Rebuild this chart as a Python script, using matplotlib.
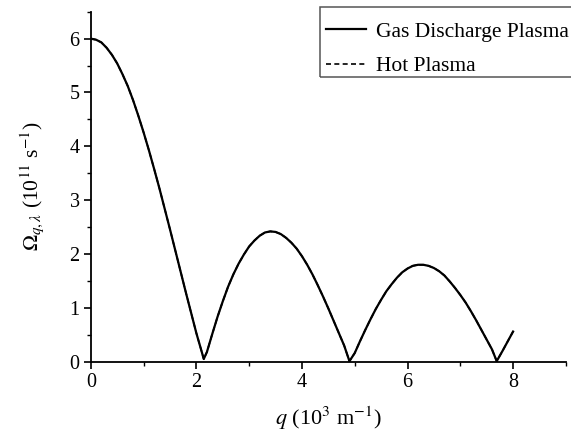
import matplotlib.pyplot as plt
from matplotlib.patches import Rectangle
from matplotlib.ticker import MultipleLocator

plt.rcParams['font.family'] = ['Liberation Serif', 'DejaVu Serif']
plt.rcParams['mathtext.fontset'] = 'stix'

# values (q in 10^3 m^-1, Omega in 10^11 s^-1)
q = [0.0, 0.1, 0.2, 0.3, 0.4, 0.5, 0.6, 0.7, 0.8, 0.9, 1.0, 1.1, 1.2, 1.3,
     1.4, 1.5, 1.6, 1.7, 1.8, 1.9, 2.0, 2.1, 2.14, 2.2, 2.3, 2.4, 2.5, 2.6,
     2.7, 2.8, 2.9, 3.0, 3.1, 3.2, 3.3, 3.4, 3.5, 3.6, 3.7, 3.8, 3.9, 4.0,
     4.1, 4.2, 4.3, 4.4, 4.5, 4.6, 4.7, 4.8, 4.9, 5.0, 5.1, 5.2, 5.3, 5.4,
     5.5, 5.6, 5.7, 5.8, 5.9, 6.0, 6.1, 6.2, 6.3, 6.4, 6.5, 6.6, 6.7, 6.8,
     6.9, 7.0, 7.1, 7.2, 7.3, 7.4, 7.5, 7.6, 7.69, 7.8, 7.9, 8.0]
omega_gas = [6.00, 5.98, 5.93, 5.83, 5.70, 5.54, 5.34, 5.12, 4.86, 4.57,
             4.26, 3.93, 3.58, 3.22, 2.84, 2.46, 2.07, 1.68, 1.29, 0.91,
             0.53, 0.19, 0.05, 0.18, 0.51, 0.83, 1.12, 1.39, 1.62, 1.82,
             1.99, 2.14, 2.25, 2.34, 2.40, 2.42, 2.41, 2.37, 2.30, 2.21,
             2.10, 1.96, 1.80, 1.62, 1.42, 1.21, 0.99, 0.76, 0.53, 0.30,
             0.01, 0.16, 0.38, 0.59, 0.79, 0.98, 1.15, 1.31, 1.44, 1.56,
             1.66, 1.73, 1.78, 1.80, 1.80, 1.78, 1.74, 1.68, 1.60, 1.49,
             1.37, 1.24, 1.10, 0.94, 0.77, 0.59, 0.41, 0.23, 0.01, 0.20,
             0.38, 0.56]
omega_hot = [6.00, 5.98, 5.93, 5.83, 5.70, 5.54, 5.34, 5.12, 4.86, 4.57,
             4.26, 3.93, 3.58, 3.22, 2.84, 2.46, 2.07, 1.68, 1.29, 0.91,
             0.53, 0.19, 0.05, 0.18, 0.51, 0.83, 1.12, 1.39, 1.62, 1.82,
             1.99, 2.14, 2.25, 2.34, 2.40, 2.42, 2.41, 2.37, 2.30, 2.21,
             2.10, 1.96, 1.80, 1.62, 1.42, 1.21, 0.99, 0.76, 0.53, 0.30,
             0.01, 0.16, 0.38, 0.59, 0.79, 0.98, 1.15, 1.31, 1.44, 1.56,
             1.66, 1.73, 1.78, 1.80, 1.80, 1.78, 1.74, 1.68, 1.60, 1.49,
             1.37, 1.24, 1.10, 0.94, 0.77, 0.59, 0.41, 0.23, 0.01, 0.20,
             0.38, 0.56]

fig = plt.figure(figsize=(5.71, 4.34), dpi=100)
ax = fig.add_axes([0.159, 0.1666, 0.832, 0.8064])

ax.plot(q, omega_gas, color='black', lw=1.6, label='Gas Discharge Plasma')
ax.plot(q, omega_hot, color='black', lw=1.2, ls=(0, (3, 2)), label='Hot Plasma')

ax.set_xlim(0, 9)
ax.set_ylim(0, 6.5)
ax.xaxis.set_major_locator(MultipleLocator(2))
ax.xaxis.set_minor_locator(MultipleLocator(1))
ax.yaxis.set_major_locator(MultipleLocator(1))
ax.yaxis.set_minor_locator(MultipleLocator(0.5))
ax.set_yticks([0, 1, 2, 3, 4, 5, 6])
ax.tick_params(which='major', direction='out', length=5, width=1.2,
               labelsize=14.5, pad=3)
ax.tick_params(which='minor', direction='out', length=3, width=1.0)

for side in ['top', 'right']:
    ax.spines[side].set_visible(False)
for side in ['left', 'bottom']:
    ax.spines[side].set_linewidth(1.3)

ax.set_xlabel(r'$q$ (10$^3$ m$^{-1}$)', fontsize=16, labelpad=9)
ax.set_ylabel(r'$\Omega_{q,\lambda}$ (10$^{11}$ s$^{-1}$)', fontsize=15.5, labelpad=17)

# legend box runs off the right edge of the figure, as in the original
fig.patches.append(Rectangle((320 / 571, 1 - 77 / 434), 0.5, 70 / 434,
                             transform=fig.transFigure, fill=False,
                             edgecolor='#555555', lw=1.1))
fig.legend(loc='upper left', bbox_to_anchor=(0.560, 0.9654), fontsize=15.5,
           frameon=False, handlelength=1.85, handletextpad=0.45,
           borderpad=0.3, labelspacing=0.68, borderaxespad=0.0)

fig.savefig('out.png', dpi=100)
